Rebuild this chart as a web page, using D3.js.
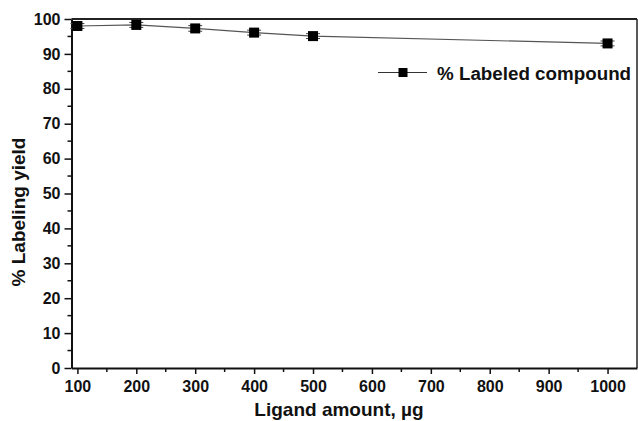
<!DOCTYPE html>
<html><head><meta charset="utf-8">
<script src="https://cdn.jsdelivr.net/npm/d3@7"></script>
<style>body{margin:0;background:#fff}svg{display:block}text{font-family:"Liberation Sans",Arial,sans-serif;font-weight:bold}</style>
</head><body>
<svg id="c" width="638" height="421"></svg>
<script>
const ligand = [100, 200, 300, 400, 500, 1000];
const yieldPct = [98.0, 98.3, 97.3, 96.1, 95.1, 93.0];
const errPct = [0.7, 0.7, 0.8, 0.7, 0.7, 0.7];
const xTicks = [100, 200, 300, 400, 500, 600, 700, 800, 900, 1000];
const yTicks = [0, 10, 20, 30, 40, 50, 60, 70, 80, 90, 100];
const seriesName = "% Labeled compound";
const xTitle = "Ligand amount, µg";
const yTitle = "% Labeling yield";

const svg = d3.select("#c");
const L = 71.5, R = 637, T = 19, B = 368;
const x = d3.scaleLinear().domain([90, 1050]).range([L, R]);
const y = d3.scaleLinear().domain([0, 100]).range([B, T]);

// frame
svg.append("line").attr("x1", L).attr("x2", R).attr("y1", T).attr("y2", T).attr("stroke", "#222").attr("stroke-width", 2);
svg.append("line").attr("x1", R).attr("x2", R).attr("y1", T).attr("y2", B).attr("stroke", "#222").attr("stroke-width", 1.5);

// x axis
const xMinor = d3.range(150, 1050, 100);
svg.selectAll(".xm").data(xMinor).join("line")
  .attr("x1", d => x(d)).attr("x2", d => x(d)).attr("y1", B).attr("y2", B + 4)
  .attr("stroke", "#111").attr("stroke-width", 1.5);
const xa = svg.append("g").attr("transform", `translate(0,${B})`)
  .call(d3.axisBottom(x).tickValues(xTicks).tickFormat(d3.format("d")).tickSize(6).tickSizeOuter(0).tickPadding(7));
xa.select(".domain").attr("stroke", "#111").attr("stroke-width", 2);
xa.selectAll(".tick line").attr("stroke", "#111").attr("stroke-width", 1.5);
xa.selectAll("text").attr("font-size", 16).attr("fill", "#111");

// y axis
const yMinor = d3.range(5, 100, 10);
svg.selectAll(".ym").data(yMinor).join("line")
  .attr("x1", L - 4).attr("x2", L).attr("y1", d => y(d)).attr("y2", d => y(d))
  .attr("stroke", "#111").attr("stroke-width", 1.5);
const ya = svg.append("g").attr("transform", `translate(${L},0)`)
  .call(d3.axisLeft(y).tickValues(yTicks).tickSize(7).tickSizeOuter(0).tickPadding(4));
ya.select(".domain").attr("stroke", "#111").attr("stroke-width", 2);
ya.selectAll(".tick line").attr("stroke", "#111").attr("stroke-width", 1.5);
ya.selectAll("text").attr("font-size", 16).attr("fill", "#111");

// titles
svg.append("text").attr("x", 339).attr("y", 416).attr("text-anchor", "middle")
  .attr("font-size", 19).attr("fill", "#111").text(xTitle);
svg.append("text").attr("transform", "translate(25,212) rotate(-90)").attr("text-anchor", "middle")
  .attr("font-size", 19).attr("fill", "#111").text(yTitle);

// data
const pts = ligand.map((d, i) => ({x: d, y: yieldPct[i], e: errPct[i]}));
svg.append("path").datum(pts)
  .attr("d", d3.line().x(d => x(d.x)).y(d => y(d.y)))
  .attr("fill", "none").attr("stroke", "#555").attr("stroke-width", 1.2);
const eg = svg.selectAll(".err").data(pts).join("g");
eg.append("line").attr("x1", d => x(d.x)).attr("x2", d => x(d.x))
  .attr("y1", d => y(d.y - d.e)).attr("y2", d => y(d.y + d.e)).attr("stroke", "#333");
eg.selectAll(".cap").data(d => [[d.x, d.y - d.e], [d.x, d.y + d.e]]).join("line")
  .attr("x1", d => x(d[0]) - 7).attr("x2", d => x(d[0]) + 7)
  .attr("y1", d => y(d[1])).attr("y2", d => y(d[1])).attr("stroke", "#444").attr("stroke-width", 1);
svg.selectAll(".mk").data(pts).join("rect")
  .attr("x", d => x(d.x) - 5).attr("y", d => y(d.y) - 5)
  .attr("width", 10).attr("height", 10).attr("fill", "#000");

// legend
const lgY = 72.5;
svg.append("line").attr("x1", 378).attr("x2", 427).attr("y1", lgY).attr("y2", lgY).attr("stroke", "#333").attr("stroke-width", 1.2);
svg.append("rect").attr("x", 398.5).attr("y", lgY - 4.5).attr("width", 9).attr("height", 9).attr("fill", "#000");
svg.append("text").attr("x", 437).attr("y", 80).attr("font-size", 18.8).attr("fill", "#111").text(seriesName);
</script>
</body></html>
